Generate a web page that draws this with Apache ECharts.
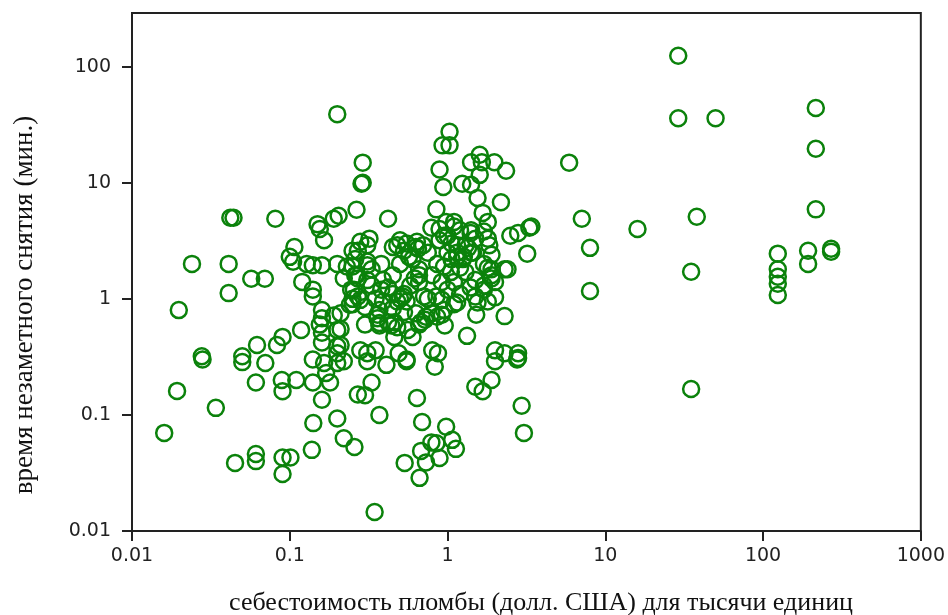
<!DOCTYPE html>
<html>
<head>
<meta charset="utf-8">
<title>Scatter</title>
<script src="https://cdn.jsdelivr.net/npm/echarts@6/dist/echarts.min.js"></script>
<style>
  html, body { margin: 0; padding: 0; background: #fff; }
  #main { width: 948px; height: 615px; }
</style>
</head>
<body>
<div id="main"></div>
<script>
// [себестоимость, время], grouped by area
var farRight = [
  [29, 124], [29, 36], [50, 36], [216, 44], [216, 19.6], [216, 5.9],
  [193, 2.6], [193, 2.0], [124, 2.45], [124, 1.8], [124, 1.55], [124, 1.35],
  [124, 1.08], [270, 2.7], [270, 2.55], [35, 1.71], [38, 5.1], [35, 0.167],
  [16, 4.0], [7.1, 4.9], [5.9, 14.9], [8.0, 2.75], [8.0, 1.17]
];
var midRight = [
  [3.3, 4.1], [2.8, 3.7], [3.4, 4.2], [3.2, 2.45], [2.95, 0.12], [3.05, 0.07],
  [2.8, 0.31], [2.3, 0.34], [2.3, 0.71], [2.3, 1.8], [2.35, 12.7], [2.0, 0.29],
  [2.76, 0.3], [2.5, 3.5], [2.4, 1.8]
];
var topMiddle = [
  [0.2, 39], [0.29, 14.9], [0.29, 10], [0.285, 9.8], [1.03, 27.5], [0.93, 21],
  [1.03, 21], [0.89, 13], [0.94, 9.2], [1.6, 17.4], [1.41, 15], [1.65, 15],
  [1.98, 15], [1.6, 11.7], [1.24, 9.8], [1.41, 9.6], [2.18, 6.8], [1.55, 7.4],
  [1.67, 5.5], [1.8, 4.6]
];
var upperLeft = [
  [0.042, 5.0], [0.044, 5.0], [0.081, 4.9], [0.024, 2.0], [0.041, 2.0],
  [0.057, 1.49], [0.0695, 1.49], [0.041, 1.12], [0.0198, 0.8], [0.0277, 0.32],
  [0.204, 5.2], [0.19, 4.9], [0.15, 4.4], [0.155, 4.0], [0.165, 3.2], [0.265, 5.85],
  [0.107, 2.8], [0.105, 2.09], [0.1, 2.3], [0.128, 2.0], [0.14, 1.95], [0.16, 1.95],
  [0.2, 2.0], [0.12, 1.4], [0.14, 1.2], [0.14, 1.05], [0.16, 0.8], [0.19, 0.72],
  [0.16, 0.68], [0.155, 0.6], [0.2, 0.54], [0.118, 0.54], [0.09, 0.47], [0.083, 0.4],
  [0.062, 0.4], [0.16, 0.51], [0.16, 0.42], [0.2, 0.39], [0.2, 0.34], [0.05, 0.32],
  [0.25, 2.6], [0.25, 1.9], [0.265, 1.6], [0.255, 1.2], [0.25, 1.0]
];
var lowerLeft = [
  [0.028, 0.30], [0.0193, 0.161], [0.034, 0.115], [0.016, 0.070], [0.045, 0.0386],
  [0.061, 0.046], [0.061, 0.040], [0.09, 0.043], [0.101, 0.043], [0.09, 0.031],
  [0.138, 0.050], [0.141, 0.085], [0.2, 0.093], [0.22, 0.063], [0.257, 0.053],
  [0.05, 0.285], [0.07, 0.28], [0.061, 0.19], [0.089, 0.2], [0.09, 0.16],
  [0.11, 0.2], [0.14, 0.19], [0.16, 0.135], [0.18, 0.19], [0.14, 0.3],
  [0.165, 0.28], [0.2, 0.28], [0.22, 0.29], [0.27, 0.15], [0.17, 0.23]
];
var lowerMiddle = [
  [0.345, 0.0146], [0.665, 0.0287], [0.535, 0.0386], [0.68, 0.049], [0.73, 0.039],
  [0.85, 0.057], [0.79, 0.058], [0.89, 0.0426], [0.98, 0.079], [1.07, 0.061],
  [1.13, 0.051], [0.69, 0.087], [0.64, 0.14], [0.37, 0.1], [0.3, 0.148],
  [0.33, 0.19], [0.41, 0.27], [0.31, 0.29], [0.55, 0.29], [0.83, 0.26],
  [1.5, 0.175], [1.67, 0.16], [1.9, 0.2]
];
var core = [
  [0.42, 4.9], [0.85, 5.9], [1.1, 4.6], [0.98, 4.6], [0.89, 4.0], [1.4, 3.7],
  [1.5, 3.3], [1.8, 3.3], [0.32, 3.3], [0.28, 3.1], [0.5, 3.2], [0.64, 3.1],
  [0.45, 2.8], [0.53, 2.6], [0.57, 2.3], [0.89, 3.2], [1.06, 3.0], [1.15, 2.5],
  [1.27, 2.3], [0.38, 2.0], [0.66, 1.8], [0.86, 2.0], [0.95, 1.9], [0.8, 1.6],
  [1.8, 1.85], [1.3, 1.7], [1.5, 1.45], [0.23, 1.9], [0.22, 1.5], [0.27, 1.5],
  [0.31, 2.1], [0.33, 1.8], [0.39, 1.45], [0.92, 1.4], [1.1, 1.4], [2.0, 1.4],
  [0.33, 1.3], [0.38, 1.2], [0.27, 1.05], [0.25, 0.9], [0.52, 1.05], [0.48, 0.95],
  [0.75, 1.0], [0.92, 0.98], [1.1, 0.9], [1.5, 1.05], [1.8, 0.95], [2.0, 1.03],
  [0.39, 0.95], [0.37, 0.8], [0.45, 0.83], [0.63, 0.75], [0.73, 0.7], [0.86, 0.7],
  [0.36, 0.68], [0.37, 0.62], [0.42, 0.63], [0.48, 0.57], [0.56, 0.54], [0.66, 0.6],
  [0.46, 0.47], [0.6, 0.47], [1.33, 0.48], [0.21, 0.75], [0.21, 0.55], [0.21, 0.4],
  [0.28, 0.36], [0.31, 0.34], [0.35, 0.36], [0.8, 0.36], [0.87, 0.34], [0.49, 0.34],
  [0.55, 0.3], [2.0, 0.36], [2.8, 0.34], [0.79, 0.75], [0.72, 0.66], [1.2, 1.85],
  [1.25, 2.2], [1.35, 2.75], [1.45, 2.5], [1.2, 3.9], [0.58, 1.3], [0.62, 1.5],
  [0.66, 1.4], [0.5, 1.0], [0.55, 0.95], [0.45, 1.1], [0.42, 1.25], [0.35, 1.0],
  [0.3, 0.85], [0.3, 0.6], [0.65, 2.7], [0.7, 2.9], [0.75, 2.5], [0.6, 2.2],
  [1.0, 2.5], [1.05, 1.7], [1.0, 1.2], [1.2, 1.1], [1.4, 1.25], [1.7, 1.3],
  [1.9, 1.6], [1.9, 2.4], [1.7, 2.0], [1.3, 2.9], [0.95, 3.5], [0.5, 2.0],
  [0.45, 1.6], [0.95, 0.8]
];
var coreExtra = [
  [0.31, 2.9], [0.27, 2.6], [0.48, 2.9], [0.55, 3.0], [0.63, 2.8], [0.31, 1.95],
  [0.31, 1.45], [0.53, 1.1], [0.66, 1.6], [1.06, 2.2], [1.15, 2.3], [1.0, 3.5],
  [1.15, 2.9], [0.79, 4.1], [1.1, 4.2], [1.41, 3.9], [1.7, 3.8], [1.84, 2.9],
  [1.41, 2.5], [1.9, 1.8], [1.9, 1.5], [1.7, 1.2], [1.15, 0.93], [1.55, 0.93],
  [1.52, 0.73], [0.71, 1.05], [0.85, 1.05], [0.53, 0.77], [0.46, 0.63], [0.68, 0.63],
  [0.92, 0.73], [0.96, 0.59], [0.36, 0.73], [0.37, 0.59], [0.44, 0.59], [0.245, 1.2],
  [0.24, 0.89], [0.28, 0.98], [0.26, 1.6], [0.26, 2.2]
];
var xTicks = [0.01, 0.1, 1, 10, 100, 1000];
var yTicks = [0.01, 0.1, 1, 10, 100];

var points = [].concat(farRight, midRight, topMiddle, upperLeft, lowerLeft, lowerMiddle, core, coreExtra);

var chart = echarts.init(document.getElementById('main'), null, { renderer: 'canvas' });
var labelFont = { color: '#222', fontFamily: 'DejaVu Sans', fontSize: 19 };

chart.setOption({
  animation: false,
  backgroundColor: '#fff',
  grid: {
    left: 132, top: 13, right: 26, bottom: 84,
    show: true, borderColor: '#222', borderWidth: 2, backgroundColor: 'transparent'
  },
  xAxis: {
    type: 'log', logBase: 10, min: 0.01, max: 1000,
    axisLine: { show: true, lineStyle: { color: '#222', width: 2 } },
    axisTick: { show: true, length: 10, lineStyle: { color: '#222', width: 2 }, customValues: xTicks },
    minorTick: { show: false },
    splitLine: { show: false },
    axisLabel: Object.assign({ margin: 16, customValues: xTicks,
      formatter: function (v) { return String(+v.toPrecision(3)); } }, labelFont)
  },
  yAxis: {
    type: 'log', logBase: 10, min: 0.01, max: 290,
    axisLine: { show: true, lineStyle: { color: '#222', width: 2 } },
    axisTick: { show: true, length: 10, lineStyle: { color: '#222', width: 2 }, customValues: yTicks },
    minorTick: { show: false },
    splitLine: { show: false },
    axisLabel: Object.assign({ margin: 21, customValues: yTicks,
      formatter: function (v) { return String(+v.toPrecision(3)); } }, labelFont)
  },
  graphic: [
    {
      type: 'text', x: 541, y: 603,
      style: {
        text: 'себестоимость пломбы (долл. США) для тысячи единиц',
        font: '26px "Liberation Serif", serif', fill: '#111',
        align: 'center', verticalAlign: 'middle'
      }
    },
    {
      type: 'text', x: 25, y: 305, rotation: Math.PI / 2,
      style: {
        text: 'время незаметного снятия (мин.)',
        font: '27px "Liberation Serif", serif', fill: '#111',
        align: 'center', verticalAlign: 'middle'
      }
    }
  ],
  series: [{
    type: 'scatter',
    data: points,
    symbol: 'circle',
    symbolSize: 16,
    itemStyle: { color: 'rgba(0,0,0,0)', borderColor: '#0b820b', borderWidth: 2.5, opacity: 1 },
    emphasis: { disabled: true }
  }]
});
</script>
</body>
</html>
